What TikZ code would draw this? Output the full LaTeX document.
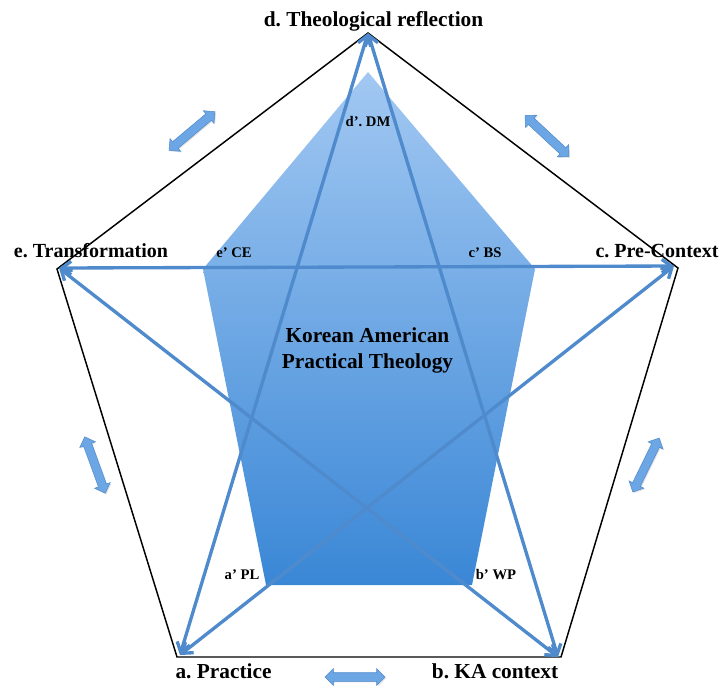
\documentclass[tikz,border=0pt]{standalone}
\usepackage{fontspec}
\setmainfont{Liberation Serif}
\usetikzlibrary{arrows.meta,shapes.arrows,shadows}
\definecolor{starblue}{RGB}{79,139,204}
\definecolor{padtop}{RGB}{162,200,242}
\definecolor{padbot}{RGB}{58,135,214}
\definecolor{smallfill}{RGB}{108,166,228}
\definecolor{smalledge}{RGB}{80,140,205}
\begin{document}
\frenchspacing
\begin{tikzpicture}[x=0.75pt,y=-0.75pt,
  outer/.style={draw=black,line width=1.1pt,line join=miter},
  starline/.style={draw=starblue,line width=2.5pt,
    {Straight Barb[length=7pt,width=10pt]}-{Straight Barb[length=7pt,width=10pt]}},
  biglabel/.style={font=\bfseries\fontsize{16}{19}\selectfont,anchor=base,inner sep=0pt},
  sidelabel/.style={font=\bfseries\fontsize{15}{18}\selectfont,anchor=base,inner sep=0pt},
  smalllabel/.style={font=\bfseries\fontsize{11}{13}\selectfont,anchor=base,inner sep=0pt},
  centerlabel/.style={font=\bfseries\fontsize{16}{20}\selectfont,anchor=base,inner sep=0pt},
  dblarrow/.style={double arrow,draw=smalledge,fill=smallfill,line width=0.4pt,
    inner xsep=0pt,inner ysep=3pt,double arrow head extend=3pt,
    minimum height=45pt,drop shadow={opacity=0.25,shadow xshift=0.8pt,shadow yshift=-0.8pt}}
]
\useasboundingbox (0,0) rectangle (725,687);
% outer vertices
\coordinate (d) at (368,33);
\coordinate (e) at (57,269);
\coordinate (c) at (678,268);
\coordinate (a) at (177,657);
\coordinate (b) at (561,657);
% star tips
\coordinate (dt) at (368,33);
\coordinate (et) at (59,268);
\coordinate (ct) at (674,266);
\coordinate (at) at (180,655);
\coordinate (bt) at (558,657);
% inner pentagon
\coordinate (dp) at (368,72);
\coordinate (ep) at (203,269);
\coordinate (cp) at (535,269);
\coordinate (bp) at (472,585);
\coordinate (ap) at (266,585);

\draw[outer] (d) -- (c) -- (b) -- (a) -- (e) -- cycle;
\path[top color=padtop,bottom color=padbot] (dp) -- (cp) -- (bp) -- (ap) -- (ep) -- cycle;

\draw[starline] (et) -- (ct);
\draw[starline] (et) -- (bt);
\draw[starline] (ct) -- (at);
\draw[starline] (dt) -- (at);
\draw[starline] (dt) -- (bt);

% small double arrows
\node[dblarrow,rotate=40] (s1) at (192,131) {};
\node[dblarrow,rotate=-43] (s2) at (547,136) {};
\node[dblarrow,rotate=110] (s3) at (95,465) {};
\node[dblarrow,rotate=64] (s4) at (646,465) {};
\node[dblarrow] (s5) at (355,677) {};

% labels
\node[biglabel] (ld) at (373.5,26) {d. Theological reflection};
\node[sidelabel] (le) at (91,257) {e. Transformation};
\node[sidelabel] (lc) at (657,257) {c. Pre-Context};
\node[biglabel] (la) at (223.5,678) {a. Practice};
\node[biglabel] (lb) at (495,678) {b. KA context};
\node[centerlabel] (k1) at (367.5,342) {Korean American};
\node[centerlabel] (k2) at (367.5,368) {Practical Theology};
\node[smalllabel] (ldp) at (368,126) {d’. DM};
\node[smalllabel] (lep) at (234,257) {e’ CE};
\node[smalllabel] (lcp) at (485,257) {c’ BS};
\node[smalllabel] (lap) at (242,579) {a’ PL};
\node[smalllabel] (lbp) at (496,579) {b’ WP};
\end{tikzpicture}
\end{document}
